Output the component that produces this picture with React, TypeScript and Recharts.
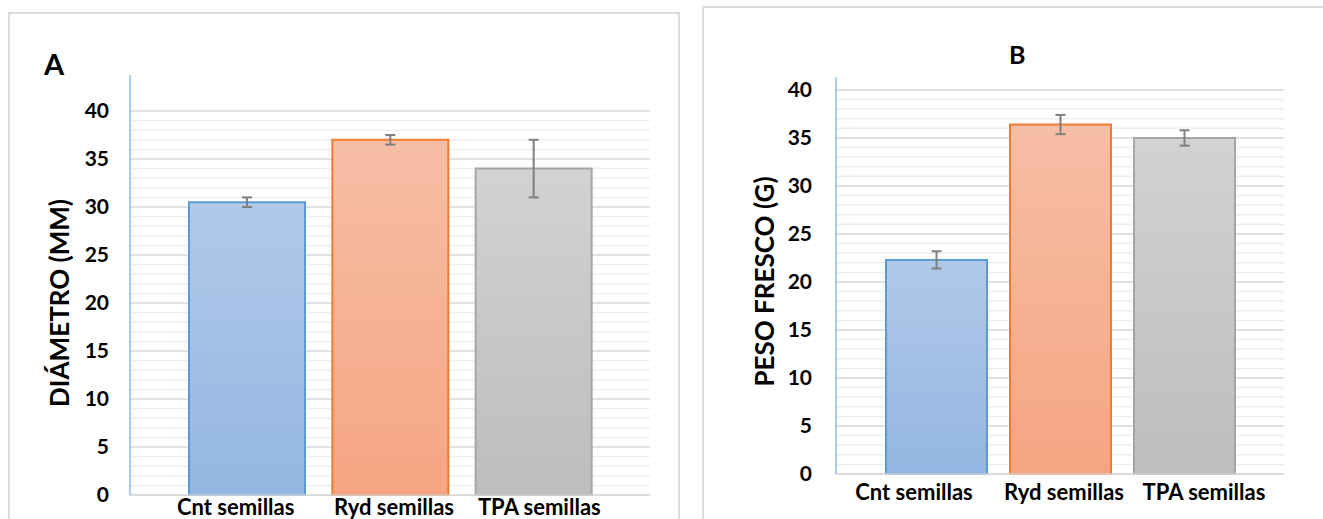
import React from 'react';
import { BarChart, Bar, XAxis, YAxis, CartesianGrid, ErrorBar, Cell, Label } from 'recharts';

const categories = ['Cnt semillas', 'Ryd semillas', 'TPA semillas'];
const diametro = [30.5, 37, 34];
const diametroErr = [0.5, 0.5, 3];
const pesoFresco = [22.3, 36.4, 35];
const pesoFrescoErr = [0.9, 1.0, 0.8];
const majorTicks = [0, 5, 10, 15, 20, 25, 30, 35, 40];
const minorTicks = Array.from({ length: 40 }, (_, i) => i).filter(v => v % 5 !== 0);

const fills = ['url(#gBlue)', 'url(#gOrange)', 'url(#gGray)'];
const strokes = ['#5B9BD5', '#ED7D31', '#A5A5A5'];

const FONT = 'Lato, "Noto Sans", sans-serif';

const dataA = categories.map((name, i) => ({ name, value: diametro[i], err: diametroErr[i] }));
const dataB = categories.map((name, i) => ({ name, value: pesoFresco[i], err: pesoFrescoErr[i] }));

const yTitle = (text: string, dx: number, dy: number) => (props: any) => {
  const vb = props.viewBox || { x: 0, y: 0, height: 0 };
  const cx = vb.x + dx;
  const cy = vb.y + vb.height / 2 + dy;
  return (
    <text
      x={cx}
      y={cy}
      transform={`rotate(-90 ${cx} ${cy})`}
      textAnchor="middle"
      dominantBaseline="central"
      fontFamily={FONT}
      fontWeight={700}
      fontSize={26}
      fill="#000"
    >
      {text}
    </text>
  );
};

// category labels in the original sit a little off the bar centres
const xTick = (shifts: number[]) => (props: any) => {
  const { x, y, payload, index } = props;
  return (
    <text
      x={x + (shifts[index] || 0)}
      y={y}
      dy="0.71em"
      textAnchor="middle"
      fontFamily={FONT}
      fontWeight={700}
      fontSize={22}
      fill="#000"
    >
      {payload.value}
    </text>
  );
};

const yTickStyle = { fontSize: 21, fontWeight: 700, fill: '#000', fontFamily: FONT };

interface PanelProps {
  data: { name: string; value: number; err: number }[];
  width: number;
  top: number;
  right: number;
  yWidth: number;
  xHeight: number;
  yMax: number;
  pad: number;
  barSize: number;
  yTickMargin: number;
  xTickMargin: number;
  labelShift: number[];
  title: string;
  titleDx: number;
  titleDy: number;
}

const Panel: React.FC<PanelProps> = p => (
  <BarChart
    width={p.width}
    height={519}
    data={p.data}
    margin={{ top: p.top, right: p.right, left: 0, bottom: 0 }}
  >
    <CartesianGrid horizontalValues={minorTicks} vertical={false} stroke="#EEEEEE" strokeWidth={1.5} />
    <CartesianGrid horizontalValues={majorTicks} vertical={false} stroke="#D9D9D9" strokeWidth={1.5} />
    <XAxis
      dataKey="name"
      height={p.xHeight}
      padding={{ left: p.pad, right: p.pad }}
      axisLine={{ stroke: '#D9D9D9', strokeWidth: 1.5 }}
      tickLine={false}
      tickSize={0}
      tickMargin={p.xTickMargin}
      tick={xTick(p.labelShift)}
      interval={0}
    />
    <YAxis
      width={p.yWidth}
      domain={[0, p.yMax]}
      ticks={majorTicks}
      interval={0}
      axisLine={{ stroke: '#5B9BD5', strokeWidth: 1 }}
      tickLine={false}
      tickSize={0}
      tickMargin={p.yTickMargin}
      tick={yTickStyle}
    >
      <Label content={yTitle(p.title, p.titleDx, p.titleDy)} />
    </YAxis>
    <Bar dataKey="value" barSize={p.barSize} isAnimationActive={false} strokeWidth={2}>
      {p.data.map((d, i) => (
        <Cell key={d.name} fill={fills[i]} stroke={strokes[i]} />
      ))}
      <ErrorBar dataKey="err" width={5} strokeWidth={2} stroke="#7F7F7F" />
    </Bar>
  </BarChart>
);

export default function App() {
  return (
    <div style={{ position: 'absolute', left: 0, top: 0, width: 1323, height: 519, overflow: 'hidden', background: '#fff' }}>
      <svg width={0} height={0} style={{ position: 'absolute' }}>
        <defs>
          <linearGradient id="gBlue" x1="0" y1="0" x2="0" y2="1">
            <stop offset="0%" stopColor="#B1C9E8" />
            <stop offset="100%" stopColor="#93B6E2" />
          </linearGradient>
          <linearGradient id="gOrange" x1="0" y1="0" x2="0" y2="1">
            <stop offset="0%" stopColor="#F6BEA6" />
            <stop offset="100%" stopColor="#F5A582" />
          </linearGradient>
          <linearGradient id="gGray" x1="0" y1="0" x2="0" y2="1">
            <stop offset="0%" stopColor="#D2D2D2" />
            <stop offset="100%" stopColor="#BDBDBD" />
          </linearGradient>
        </defs>
      </svg>
      <div style={{ position: 'absolute', left: 8, top: 12, width: 672, height: 540, border: '2px solid #DCDCDC', boxSizing: 'border-box' }} />
      <div style={{ position: 'absolute', left: 702, top: 6, width: 660, height: 540, border: '2px solid #DCDCDC', boxSizing: 'border-box' }} />
      <div style={{ position: 'absolute', left: 44, top: 44, fontFamily: FONT, fontWeight: 700, fontSize: 29, lineHeight: '40px' }}>A</div>
      <div style={{ position: 'absolute', left: 1009, top: 37, fontFamily: FONT, fontWeight: 700, fontSize: 25, lineHeight: '34px' }}>B</div>
      <div style={{ position: 'absolute', left: 0, top: 0 }}>
        <Panel
          data={dataA}
          width={680}
          top={75}
          right={30}
          yWidth={130}
          xHeight={24}
          yMax={43.75}
          pad={45}
          barSize={116}
          yTickMargin={21}
          xTickMargin={4}
          labelShift={[-11, 4, 6]}
          title="DIÁMETRO (MM)"
          titleDx={59}
          titleDy={18}
        />
      </div>
      <div style={{ position: 'absolute', left: 700, top: 0 }}>
        <Panel
          data={dataB}
          width={623}
          top={77}
          right={39}
          yWidth={136}
          xHeight={45}
          yMax={41.35}
          pad={38}
          barSize={101}
          yTickMargin={24}
          xTickMargin={10}
          labelShift={[-22, 4, 20]}
          title="PESO FRESCO (G)"
          titleDx={64}
          titleDy={6}
        />
      </div>
    </div>
  );
}
